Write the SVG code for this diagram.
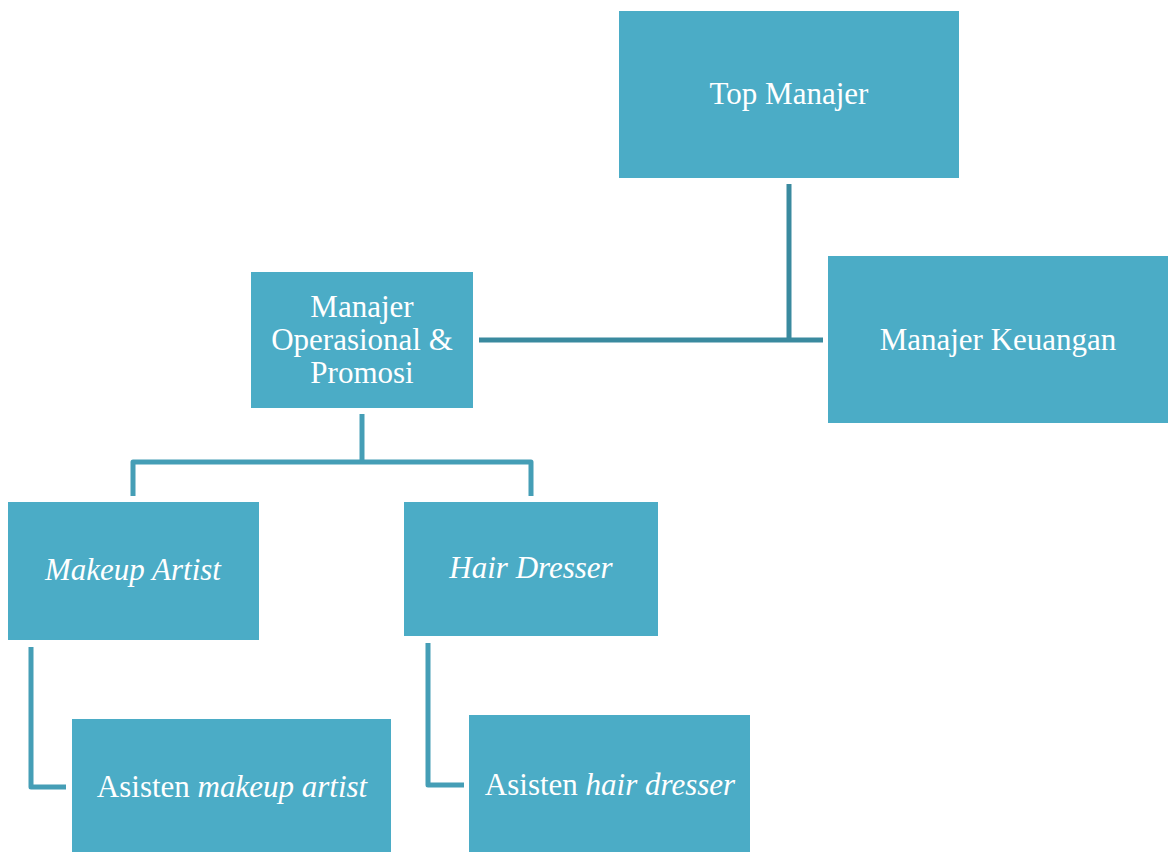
<svg xmlns="http://www.w3.org/2000/svg" width="1169" height="852" viewBox="0 0 1169 852">
<style>
.box{fill:#4BACC6;}
.t{font-size:31px;fill:#FFFFFF;text-anchor:middle;}
.i{font-style:italic;}
.c1{fill:none;stroke:#3A8A9F;stroke-width:5;}
.c2{fill:none;stroke:#459EB6;stroke-width:5;stroke-linejoin:round;}
</style>
<rect width="1169" height="852" fill="#FFFFFF"/>
<g id="connectors">
<path class="c1" d="M789,184 V341"/>
<path class="c1" d="M479,340 H823"/>
<path class="c2" d="M362,414 V462"/>
<path class="c2" d="M133,496 V462 H531 V496"/>
<path class="c2" d="M31,647 V787 H66"/>
<path class="c2" d="M428,643 V785 H464"/>
</g>
<g font-family="Liberation Serif, Times New Roman, serif">
<g id="top-manajer">
<rect class="box" x="619" y="11" width="340" height="167"/>
<text class="t" x="789" y="104">Top Manajer</text>
</g>
<g id="manajer-keuangan">
<rect class="box" x="828" y="256" width="340" height="167"/>
<text class="t" x="998" y="350">Manajer Keuangan</text>
</g>
<g id="manajer-operasional">
<rect class="box" x="251" y="272" width="222" height="136"/>
<text class="t" x="362" y="317">Manajer</text>
<text class="t" x="362" y="350">Operasional &amp;</text>
<text class="t" x="362" y="383">Promosi</text>
</g>
<g id="makeup-artist">
<rect class="box" x="8" y="502" width="251" height="138"/>
<text class="t i" x="133" y="580">Makeup Artist</text>
</g>
<g id="hair-dresser">
<rect class="box" x="404" y="502" width="254" height="134"/>
<text class="t i" x="531" y="578">Hair Dresser</text>
</g>
<g id="asisten-makeup-artist">
<rect class="box" x="72" y="719" width="319" height="133"/>
<text class="t" x="232" y="797">Asisten <tspan class="i">makeup artist</tspan></text>
</g>
<g id="asisten-hair-dresser">
<rect class="box" x="469" y="715" width="281" height="137"/>
<text class="t" x="610" y="795">Asisten <tspan class="i">hair dresser</tspan></text>
</g>
</g>
</svg>
